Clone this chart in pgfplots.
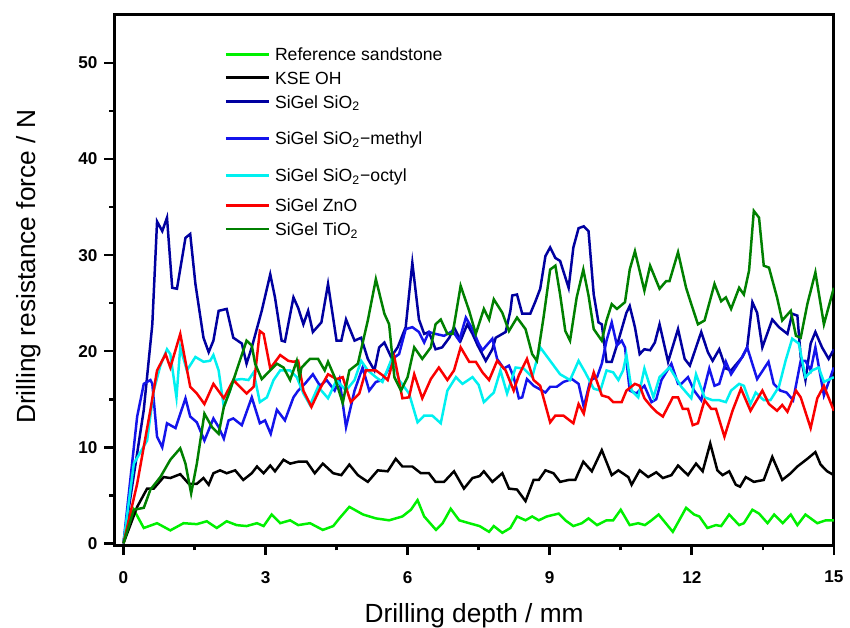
\documentclass[border=0pt]{standalone}
\usepackage{fontspec}
\setmainfont{Liberation Sans}
\usepackage{pgfplots}
\pgfplotsset{compat=1.18}
\usetikzlibrary{calc}

\definecolor{refgreen}{RGB}{0,240,0}
\definecolor{sinavy}{RGB}{0,0,160}
\definecolor{siblue}{RGB}{20,20,235}
\definecolor{sicyan}{RGB}{0,240,240}
\definecolor{znred}{RGB}{250,0,0}
\definecolor{tigreen}{RGB}{0,128,0}
\newcommand{\legfont}{\fontsize{8.85}{11}\selectfont}

\begin{document}
\begin{tikzpicture}
\begin{axis}[
  scale only axis,
  width=361.5pt, height=266.5pt,
  xmin=-0.19, xmax=15, ymin=-0.2, ymax=55,
  xtick={0,3,...,15}, ytick={0,10,...,50},
  minor x tick num=1, minor y tick num=1,
  xtick pos=left, ytick pos=left,
  tick align=outside,
  major tick length=5pt, minor tick length=2.5pt,
  axis line style={line width=1.5pt},
  every tick/.style={line width=1.3pt, black},
  /pgf/number format/assume math mode=true,
  tick label style={font=\fontsize{8.6}{10}\selectfont\bfseries},
  xticklabel style={yshift=-4.5pt},
  every axis x label/.style={at={(rel axis cs:0.5,0)}, anchor=center, yshift=-35.25pt,
    inner sep=0pt, font=\fontsize{13.2}{15}\selectfont},
  every axis y label/.style={at={(rel axis cs:0,0.525)}, xshift=-43pt, rotate=90,
    anchor=center, inner sep=0pt, font=\fontsize{13.2}{15}\selectfont},
  xlabel={Drilling depth / mm},
  ylabel={Drilling resistance force / N},
  every axis plot/.append style={line width=1.25pt},
]
\coordinate (sw) at (rel axis cs:0,0);
\coordinate (ne) at (rel axis cs:1,1);

\addplot[refgreen] coordinates {
(0,0)(0.22,3.5)(0.43,1.6)(0.71,2.1)(0.99,1.35)(1.27,2.1)(1.55,2.0)(1.76,2.3)(1.97,1.6)(2.18,2.3)(2.39,1.9)(2.6,1.8)(2.82,2.1)(2.96,1.8)(3.13,3.0)(3.31,2.1)(3.52,2.4)(3.69,1.9)(3.94,2.1)(4.21,1.4)(4.43,1.8)(4.56,2.6)(4.77,3.8)(5.06,3.0)(5.33,2.6)(5.61,2.4)(5.89,2.8)(6.07,3.5)(6.21,4.5)(6.35,2.8)(6.6,1.4)(6.74,2.1)(6.91,3.6)(7.09,2.4)(7.3,2.1)(7.52,1.8)(7.72,1.2)(7.82,1.8)(8.0,1.1)(8.17,1.6)(8.31,2.8)(8.49,2.4)(8.63,2.8)(8.77,2.4)(8.94,2.8)(9.19,3.1)(9.33,2.4)(9.5,1.8)(9.68,2.1)(9.82,2.6)(10.0,1.9)(10.2,2.4)(10.34,2.4)(10.5,3.5)(10.69,1.9)(10.87,2.1)(11.01,1.9)(11.15,2.4)(11.3,3.0)(11.6,1.2)(11.88,3.7)(12.05,3.0)(12.16,2.8)(12.33,1.6)(12.51,1.9)(12.62,1.8)(12.79,3.0)(13.0,1.9)(13.1,2.1)(13.28,3.5)(13.42,3.1)(13.6,2.1)(13.74,3.0)(13.92,2.1)(14.09,3.0)(14.23,1.9)(14.4,3.0)(14.65,2.1)(14.83,2.4)(15.0,2.4)
};

\addplot[black] coordinates {
(0,0)(0.29,3.8)(0.5,5.7)(0.64,5.7)(0.85,6.9)(0.99,6.8)(1.2,7.2)(1.38,6.2)(1.55,6.2)(1.69,6.8)(1.8,6.1)(1.9,7.3)(2.04,7.6)(2.18,7.3)(2.36,7.6)(2.53,6.6)(2.71,7.3)(2.82,8.0)(2.96,7.3)(3.1,8.1)(3.2,7.5)(3.38,8.7)(3.52,8.3)(3.69,8.5)(3.87,8.5)(4.04,7.3)(4.21,8.3)(4.43,7.3)(4.6,7.1)(4.77,8.2)(4.95,7.1)(5.16,6.4)(5.37,7.6)(5.58,7.5)(5.75,8.8)(5.89,8.0)(6.1,8.0)(6.28,7.3)(6.45,7.3)(6.59,6.4)(6.77,6.4)(6.98,7.5)(7.19,5.7)(7.37,6.8)(7.52,7.0)(7.61,7.5)(7.79,6.4)(8.0,7.3)(8.14,5.7)(8.31,5.6)(8.49,4.4)(8.66,6.6)(8.77,6.6)(8.91,7.6)(9.08,7.3)(9.22,6.4)(9.4,6.6)(9.54,6.6)(9.71,8.5)(9.89,7.5)(10.1,9.7)(10.31,7.1)(10.45,7.6)(10.66,6.9)(10.73,6.1)(10.9,7.6)(11.08,6.9)(11.25,7.4)(11.39,6.8)(11.57,7.1)(11.71,8.1)(11.92,7.1)(12.09,8.3)(12.23,7.5)(12.39,10.4)(12.54,7.6)(12.65,7.1)(12.79,7.5)(12.93,6.1)(13.02,5.9)(13.14,6.9)(13.31,6.4)(13.52,6.6)(13.7,9.0)(13.91,6.6)(14.09,7.3)(14.23,8.0)(14.44,8.8)(14.61,9.5)(14.72,8.2)(14.86,7.5)(15.0,7.1)
};

\addplot[sinavy] coordinates {
(0,0)(0.43,13.9)(0.61,22.8)(0.71,33.5)(0.82,32.5)(0.92,33.9)(1.03,26.6)(1.13,26.5)(1.31,31.8)(1.41,32.2)(1.52,27)(1.69,21.4)(1.8,19.9)(1.9,21.1)(2.01,24.2)(2.18,24.4)(2.32,21.4)(2.5,20.8)(2.6,18.7)(2.71,20.4)(2.92,24.2)(3.1,28)(3.2,25.6)(3.34,21.1)(3.41,21)(3.59,25.6)(3.69,24.5)(3.8,22.8)(3.9,24.2)(4.0,22)(4.18,23)(4.32,27)(4.5,21.1)(4.6,21.1)(4.7,23.3)(4.88,21.1)(5.02,21.4)(5.16,19.2)(5.3,18)(5.4,20.4)(5.51,20.9)(5.65,19.4)(5.79,20.4)(5.96,22.5)(6.1,29.2)(6.24,23.3)(6.35,21.8)(6.45,22)(6.59,20.2)(6.73,20.4)(6.88,21.4)(6.98,22.5)(7.12,21.1)(7.26,22.8)(7.37,21.8)(7.48,20.6)(7.65,19.0)(7.79,20.2)(7.86,21.4)(8.07,22)(8.17,24.2)(8.21,25.8)(8.31,25.9)(8.42,23.9)(8.59,23.9)(8.7,25.2)(8.8,26.5)(8.91,29.9)(9.01,30.8)(9.12,29.7)(9.22,29.4)(9.4,26.6)(9.5,30.8)(9.61,32.8)(9.72,33.0)(9.82,32.5)(9.93,25.9)(10.03,23)(10.1,22.8)(10.2,18.9)(10.31,18.9)(10.45,21.1)(10.62,24.0)(10.69,24.7)(10.8,22.5)(10.9,19.7)(11.0,20.2)(11.12,20.1)(11.22,20.9)(11.32,22.8)(11.5,18.9)(11.71,22.3)(11.85,19.2)(11.96,18.5)(12.2,22)(12.34,19.9)(12.44,19.0)(12.58,20.2)(12.72,18.2)(12.83,18.0)(13.07,19.4)(13.17,20.4)(13.28,25.1)(13.38,24.0)(13.49,20.4)(13.7,23.3)(13.84,22.5)(14.02,21.8)(14.12,23.9)(14.23,23.7)(14.3,19.4)(14.4,17.0)(14.51,20.8)(14.61,22.0)(14.75,20.4)(14.89,19.2)(15.0,20.2)
};

\addplot[siblue] coordinates {
(0,0)(0.29,13.2)(0.43,16.6)(0.57,17.0)(0.61,16.6)(0.71,11.1)(0.82,10.0)(0.92,12.5)(1.1,12.0)(1.31,15.1)(1.41,13.2)(1.55,12.6)(1.71,10.7)(1.9,13.0)(2.01,12.1)(2.12,10.9)(2.22,12.8)(2.32,13.0)(2.5,12.3)(2.71,15.2)(2.88,12.5)(2.99,12.8)(3.11,11.4)(3.24,13.9)(3.41,12.8)(3.59,15.2)(3.69,15.9)(3.83,16.6)(4.0,17.6)(4.15,16.4)(4.29,17)(4.46,15.9)(4.56,17.1)(4.7,12.1)(4.88,15.9)(5.05,18.3)(5.19,15.9)(5.33,16.8)(5.47,17)(5.58,18)(5.68,19.2)(5.82,19.7)(5.96,22.3)(6.1,22.5)(6.24,22)(6.35,20.9)(6.45,22)(6.59,21.8)(6.77,21.6)(6.95,22.1)(7.09,21.1)(7.23,23.5)(7.37,22.3)(7.5,20.8)(7.58,20.1)(7.79,21.3)(7.89,19.2)(8.03,18.2)(8.14,18.5)(8.24,17.3)(8.35,15.1)(8.42,15.2)(8.52,17.1)(8.66,16.4)(8.77,16.1)(8.91,15.7)(9.01,16.3)(9.15,16.3)(9.29,16.8)(9.47,17.1)(9.61,16.6)(9.72,14.2)(9.86,17.0)(10.0,17.3)(10.1,18.7)(10.2,21.1)(10.31,23)(10.42,20.6)(10.52,21.1)(10.59,20.4)(10.69,15.9)(10.83,15.6)(11.0,16.4)(11.15,14.7)(11.25,15.0)(11.36,17.0)(11.57,18.7)(11.71,16.6)(11.78,16.6)(11.92,17.3)(12.05,15.9)(12.2,14.9)(12.37,18.2)(12.48,16.4)(12.58,16.6)(12.72,18.9)(12.83,17.6)(13.04,19.2)(13.17,20.4)(13.38,17.1)(13.62,18.9)(13.73,16.6)(13.87,15.9)(14.0,15.7)(14.14,14.9)(14.3,19.0)(14.4,19.0)(14.51,18.0)(14.61,20.4)(14.79,15.4)(15.0,18.3)
};

\addplot[sicyan] coordinates {
(0,0)(0.22,8.3)(0.5,10.7)(0.64,15.9)(0.78,18.5)(0.92,20.2)(0.99,19.7)(1.12,15.2)(1.2,20.4)(1.34,18.0)(1.52,19.4)(1.69,18.9)(1.83,19.0)(1.9,19.6)(2.01,18.0)(2.12,14.2)(2.25,15.9)(2.32,17.0)(2.5,17.1)(2.64,17.0)(2.75,17.8)(2.88,14.7)(3.03,15.2)(3.17,17.0)(3.31,18.0)(3.52,18.0)(3.66,17.3)(3.8,15.6)(3.94,14.4)(4.11,16.3)(4.32,15.1)(4.5,17)(4.7,15.9)(4.88,17)(5.02,19.0)(5.16,18)(5.33,17.3)(5.47,16.8)(5.68,19.4)(5.82,17)(6.03,15.6)(6.21,12.6)(6.35,13.3)(6.52,13.3)(6.7,12.5)(6.84,15.9)(7.02,17.3)(7.16,16.6)(7.37,17.3)(7.5,16.5)(7.61,14.7)(7.82,15.7)(7.96,18)(8.1,15.6)(8.28,18.3)(8.45,18.2)(8.63,17.3)(8.8,20.4)(9.01,19.0)(9.22,17.6)(9.43,17.0)(9.61,19.0)(9.75,17.8)(9.93,16.1)(10.07,15.9)(10.2,18.0)(10.34,17.8)(10.45,17.0)(10.55,18.0)(10.62,19.6)(10.73,15.9)(10.87,15.2)(11.0,18.2)(11.19,15.2)(11.32,17.3)(11.53,18.3)(11.78,16.3)(11.99,15.1)(12.09,17.6)(12.27,15.2)(12.44,14.9)(12.58,14.9)(12.72,14.7)(12.83,15.9)(13.0,16.6)(13.1,16.4)(13.24,14.5)(13.35,15.7)(13.52,14.9)(13.66,14.9)(13.84,16.3)(13.98,19.0)(14.12,21.3)(14.26,20.8)(14.4,17.3)(14.54,18.0)(14.68,18.3)(14.79,16.8)(15.0,17.3)
};

\addplot[znred] coordinates {
(0,0)(0.29,6.2)(0.57,13.9)(0.71,18)(0.89,19.7)(0.99,18.3)(1.2,21.8)(1.41,16.3)(1.55,15.6)(1.71,14.5)(1.9,16.6)(2.12,15.1)(2.32,17.0)(2.46,16.3)(2.6,15.6)(2.75,16.3)(2.88,22.1)(2.96,21.8)(3.1,18.2)(3.31,19.6)(3.48,19.0)(3.59,18.9)(3.69,19.0)(3.8,15.9)(3.97,14.2)(4.15,16.1)(4.32,17.6)(4.5,17.1)(4.63,17.3)(4.8,14.7)(4.98,15.6)(5.12,18)(5.33,18)(5.47,17.5)(5.58,17)(5.72,19.4)(5.89,15.1)(6.03,15.2)(6.14,17.6)(6.31,15.1)(6.49,17.1)(6.66,18.3)(6.84,17)(6.98,18)(7.12,20.4)(7.3,18.9)(7.44,18.9)(7.58,17.8)(7.72,17.0)(7.89,19)(8.07,18.0)(8.24,15.9)(8.35,17.5)(8.52,19.2)(8.66,17)(8.8,16.4)(8.91,14.4)(9.01,12.6)(9.12,13.3)(9.29,13.3)(9.5,12.5)(9.61,14.5)(9.72,13.5)(9.82,15.9)(9.93,17.8)(10.1,15.4)(10.24,15.2)(10.34,14.7)(10.52,14.7)(10.62,15.9)(10.8,16.6)(10.9,16.4)(11.0,15.1)(11.15,14.2)(11.25,13.7)(11.39,13.2)(11.6,15.2)(11.71,15.2)(11.81,14.0)(11.92,14.0)(12.02,12.3)(12.13,12.5)(12.27,14.9)(12.41,14.0)(12.51,14.0)(12.69,11.1)(12.86,13.8)(13.04,16.1)(13.24,13.8)(13.49,15.9)(13.63,14.5)(13.8,13.8)(13.91,14.4)(14.02,13.7)(14.2,15.9)(14.3,15.2)(14.51,12.0)(14.65,15.1)(14.79,16.4)(15.0,13.8)
};

\addplot[tigreen] coordinates {
(0,0)(0.22,3.5)(0.43,3.7)(0.57,5.6)(0.78,6.9)(0.99,8.7)(1.2,9.9)(1.31,8.3)(1.43,5.2)(1.55,8.3)(1.71,13.5)(1.87,12.1)(2.01,11.4)(2.12,14.2)(2.25,15.9)(2.39,18.0)(2.6,21.1)(2.71,20.6)(2.78,18.7)(2.92,17.1)(3.1,18.0)(3.24,18.7)(3.38,18.3)(3.52,17.0)(3.66,19.0)(3.72,17.3)(3.76,18.3)(3.94,19.2)(4.11,19.2)(4.25,18)(4.32,18.9)(4.46,17.3)(4.63,14.6)(4.77,18.0)(4.95,18.7)(5.16,23.2)(5.33,27.5)(5.51,23.9)(5.61,22.8)(5.72,17.3)(5.86,15.9)(6.0,17.3)(6.14,20.4)(6.31,19.2)(6.49,20.4)(6.59,22.8)(6.7,23.3)(6.84,21.8)(6.95,21.8)(7.12,26.8)(7.3,24.2)(7.44,21.8)(7.61,24.4)(7.72,23.3)(7.82,25.4)(8.0,24.0)(8.14,22.1)(8.31,23.5)(8.49,22.3)(8.63,19.7)(8.73,19.0)(8.87,23.5)(9.01,28.5)(9.12,28.9)(9.22,25.9)(9.33,22.1)(9.43,21.1)(9.57,25.6)(9.71,28.5)(9.82,25.8)(9.93,22.3)(10.1,21.1)(10.2,23.2)(10.31,24.9)(10.42,24.4)(10.59,25.1)(10.69,28.5)(10.8,30.4)(11.0,26.3)(11.12,28.9)(11.22,27.7)(11.32,26.5)(11.46,27.3)(11.53,27.3)(11.71,30.3)(11.88,26.6)(11.99,24.9)(12.13,22.8)(12.27,23.2)(12.48,27.0)(12.62,25.2)(12.72,25.6)(12.83,24.4)(13.0,26.6)(13.1,25.9)(13.21,28.4)(13.31,34.6)(13.42,33.9)(13.52,28.9)(13.63,28.7)(13.8,25.6)(13.91,23.2)(14.09,24.2)(14.2,21.6)(14.3,21.4)(14.44,24.9)(14.61,28.2)(14.79,22.8)(15.0,26.6)
};

% legend, placed by hand to keep the uneven row spacing of the original
\begin{scope}[every node/.style={anchor=base west, inner sep=0pt, black, font=\legfont}]
\draw[refgreen, line width=1.25pt] ($(rel axis cs:0,1)+(56pt,-19.85pt)$) -- ($(rel axis cs:0,1)+(77.5pt,-19.85pt)$);
\node at ($(rel axis cs:0,1)+(80.5pt,-23.15pt)$) {Reference sandstone};
\draw[black, line width=1.25pt] ($(rel axis cs:0,1)+(56pt,-31.5pt)$) -- ($(rel axis cs:0,1)+(77.5pt,-31.5pt)$);
\node at ($(rel axis cs:0,1)+(80.5pt,-34.8pt)$) {KSE OH};
\draw[sinavy, line width=1.25pt] ($(rel axis cs:0,1)+(56pt,-43.5pt)$) -- ($(rel axis cs:0,1)+(77.5pt,-43.5pt)$);
\node at ($(rel axis cs:0,1)+(80.5pt,-46.8pt)$) {SiGel SiO\textsubscript{2}};
\draw[siblue, line width=1.25pt] ($(rel axis cs:0,1)+(56pt,-62pt)$) -- ($(rel axis cs:0,1)+(77.5pt,-62pt)$);
\node at ($(rel axis cs:0,1)+(80.5pt,-65.3pt)$) {SiGel SiO\textsubscript{2}−methyl};
\draw[sicyan, line width=1.25pt] ($(rel axis cs:0,1)+(56pt,-80.65pt)$) -- ($(rel axis cs:0,1)+(77.5pt,-80.65pt)$);
\node at ($(rel axis cs:0,1)+(80.5pt,-83.95pt)$) {SiGel SiO\textsubscript{2}−octyl};
\draw[znred, line width=1.25pt] ($(rel axis cs:0,1)+(56pt,-95.65pt)$) -- ($(rel axis cs:0,1)+(77.5pt,-95.65pt)$);
\node at ($(rel axis cs:0,1)+(80.5pt,-98.95pt)$) {SiGel ZnO};
\draw[tigreen, line width=1.25pt] ($(rel axis cs:0,1)+(56pt,-107.65pt)$) -- ($(rel axis cs:0,1)+(77.5pt,-107.65pt)$);
\node at ($(rel axis cs:0,1)+(80.5pt,-110.95pt)$) {SiGel TiO\textsubscript{2}};
\end{scope}
\end{axis}
\path ($(sw)+(-57.5pt,-41.5pt)$) rectangle ($(ne)+(6pt,7.5pt)$);
\end{tikzpicture}
\end{document}
